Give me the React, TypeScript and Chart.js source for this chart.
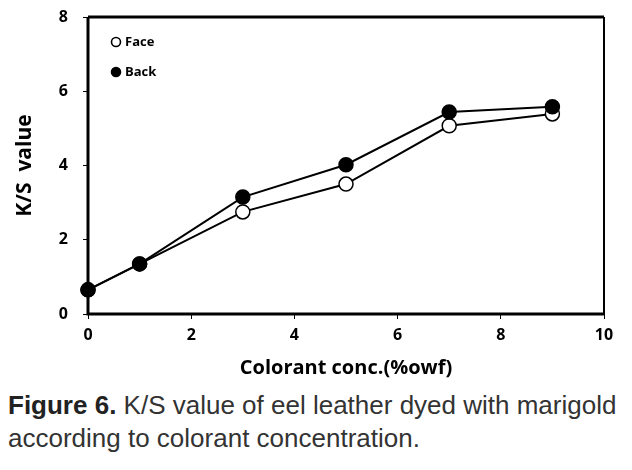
import React, { useEffect, useRef } from "react";
import { Chart, registerables } from "chart.js";

Chart.register(...registerables);

const concentrations = [0, 1, 3, 5, 7, 9];
const faceValues = [0.65, 1.35, 2.75, 3.5, 5.07, 5.39];
const backValues = [0.65, 1.35, 3.15, 4.02, 5.44, 5.58];
const seriesNames = ["Face", "Back"];
const xTitle = "Colorant conc.(%owf)";
const yTitle = "K/S  value";

const FONT = "'Open Sans', 'Noto Sans', sans-serif";

const boxAndLegend = {
  id: "boxAndLegend",
  afterDraw(chart: any) {
    const { ctx, chartArea } = chart;
    const { left, right, top, bottom } = chartArea;
    ctx.save();
    ctx.strokeStyle = "#000";
    ctx.lineWidth = 3;
    ctx.beginPath();
    ctx.moveTo(left, top);
    ctx.lineTo(right, top);
    ctx.stroke();
    ctx.beginPath();
    ctx.moveTo(left, top);
    ctx.lineTo(left, bottom);
    ctx.lineTo(right, bottom);
    ctx.stroke();
    ctx.lineWidth = 2;
    ctx.beginPath();
    ctx.moveTo(right, top);
    ctx.lineTo(right, bottom);
    ctx.stroke();
    ctx.restore();
  },
};

const legendPlugin = {
  id: "insideLegend",
  afterDatasetsDraw(chart: any) {
    const { ctx, chartArea } = chart;
    const { left, top } = chartArea;
    ctx.save();
    seriesNames.forEach((name, i) => {
      const ds = chart.data.datasets.find((d: any) => d.label === name);
      const cx = left + 28;
      const cy = top + 25 + i * 30;
      ctx.beginPath();
      ctx.arc(cx, cy, 4.5, 0, Math.PI * 2);
      ctx.fillStyle = ds.pointBackgroundColor;
      ctx.fill();
      ctx.lineWidth = 1.6;
      ctx.strokeStyle = "#000";
      ctx.stroke();
      ctx.fillStyle = "#000";
      ctx.font = `bold 13px ${FONT}`;
      ctx.textAlign = "left";
      ctx.textBaseline = "middle";
      ctx.fillText(name, cx + 9, cy);
    });
    ctx.restore();
  },
};

function App() {
  const ref = useRef<HTMLCanvasElement>(null);
  useEffect(() => {
    if (!ref.current) return;
    const chart = new Chart(ref.current, {
      type: "line",
      data: {
        datasets: [
          {
            label: seriesNames[0],
            data: concentrations.map((x, i) => ({ x, y: faceValues[i] })),
            borderColor: "#000",
            borderWidth: 2,
            pointRadius: 7,
            pointBorderWidth: 1.5,
            pointBackgroundColor: "#fff",
            pointBorderColor: "#000",
            tension: 0,
            clip: false,
            order: 1,
          },
          {
            label: seriesNames[1],
            data: concentrations.map((x, i) => ({ x, y: backValues[i] })),
            borderColor: "#000",
            borderWidth: 2,
            pointRadius: 7,
            pointBorderWidth: 1.5,
            pointBackgroundColor: "#000",
            pointBorderColor: "#000",
            tension: 0,
            clip: false,
            order: 0,
          },
        ],
      },
      options: {
        animation: false,
        responsive: false,
        layout: { padding: { top: 17, right: 28, left: 0, bottom: 0 } },
        plugins: { legend: { display: false }, tooltip: { enabled: false } },
        scales: {
          x: {
            type: "linear",
            min: 0,
            max: 10,
            ticks: { stepSize: 2, color: "#000", font: { family: FONT, weight: "bold", size: 16 }, padding: 7 },
            grid: { drawOnChartArea: false, tickLength: 5, color: "#000", lineWidth: 1 },
            border: { display: false },
            title: { display: true, text: xTitle, color: "#000", font: { family: FONT, weight: "bold", size: 20 }, padding: { top: 3, bottom: 0 } },
            afterFit: (s: any) => { s.height = 66; },
          },
          y: {
            type: "linear",
            min: 0,
            max: 8,
            ticks: { stepSize: 2, color: "#000", font: { family: FONT, weight: "bold", size: 16 }, padding: 15 },
            grid: { drawOnChartArea: false, tickLength: 5, color: "#000", lineWidth: 1 },
            border: { display: false },
            title: { display: true, text: yTitle, color: "#000", font: { family: FONT, weight: "bold", size: 21 }, padding: { top: 12, bottom: 0 } },
            afterFit: (s: any) => { s.width = 88; s.paddingTop = 10; s.paddingBottom = 10; },
          },
        },
      },
      plugins: [boxAndLegend, legendPlugin],
    } as any);
    return () => chart.destroy();
  }, []);
  return (
    <div style={{ position: "absolute", left: 0, top: 0, width: 632, height: 470, background: "#fff" }}>
      <canvas ref={ref} width={632} height={380} style={{ display: "block" }} />
      <div
        style={{
          position: "absolute",
          left: 8,
          top: 389,
          fontFamily: "'Liberation Sans', Arial, sans-serif",
          fontSize: 26,
          lineHeight: "33px",
          color: "#333",
          whiteSpace: "nowrap",
        }}
      >
        <span style={{ fontWeight: "bold", color: "#222" }}>Figure 6.</span> K/S value of eel leather dyed with marigold
        <br />
        according to colorant concentration.
      </div>
    </div>
  );
}

export default App;
